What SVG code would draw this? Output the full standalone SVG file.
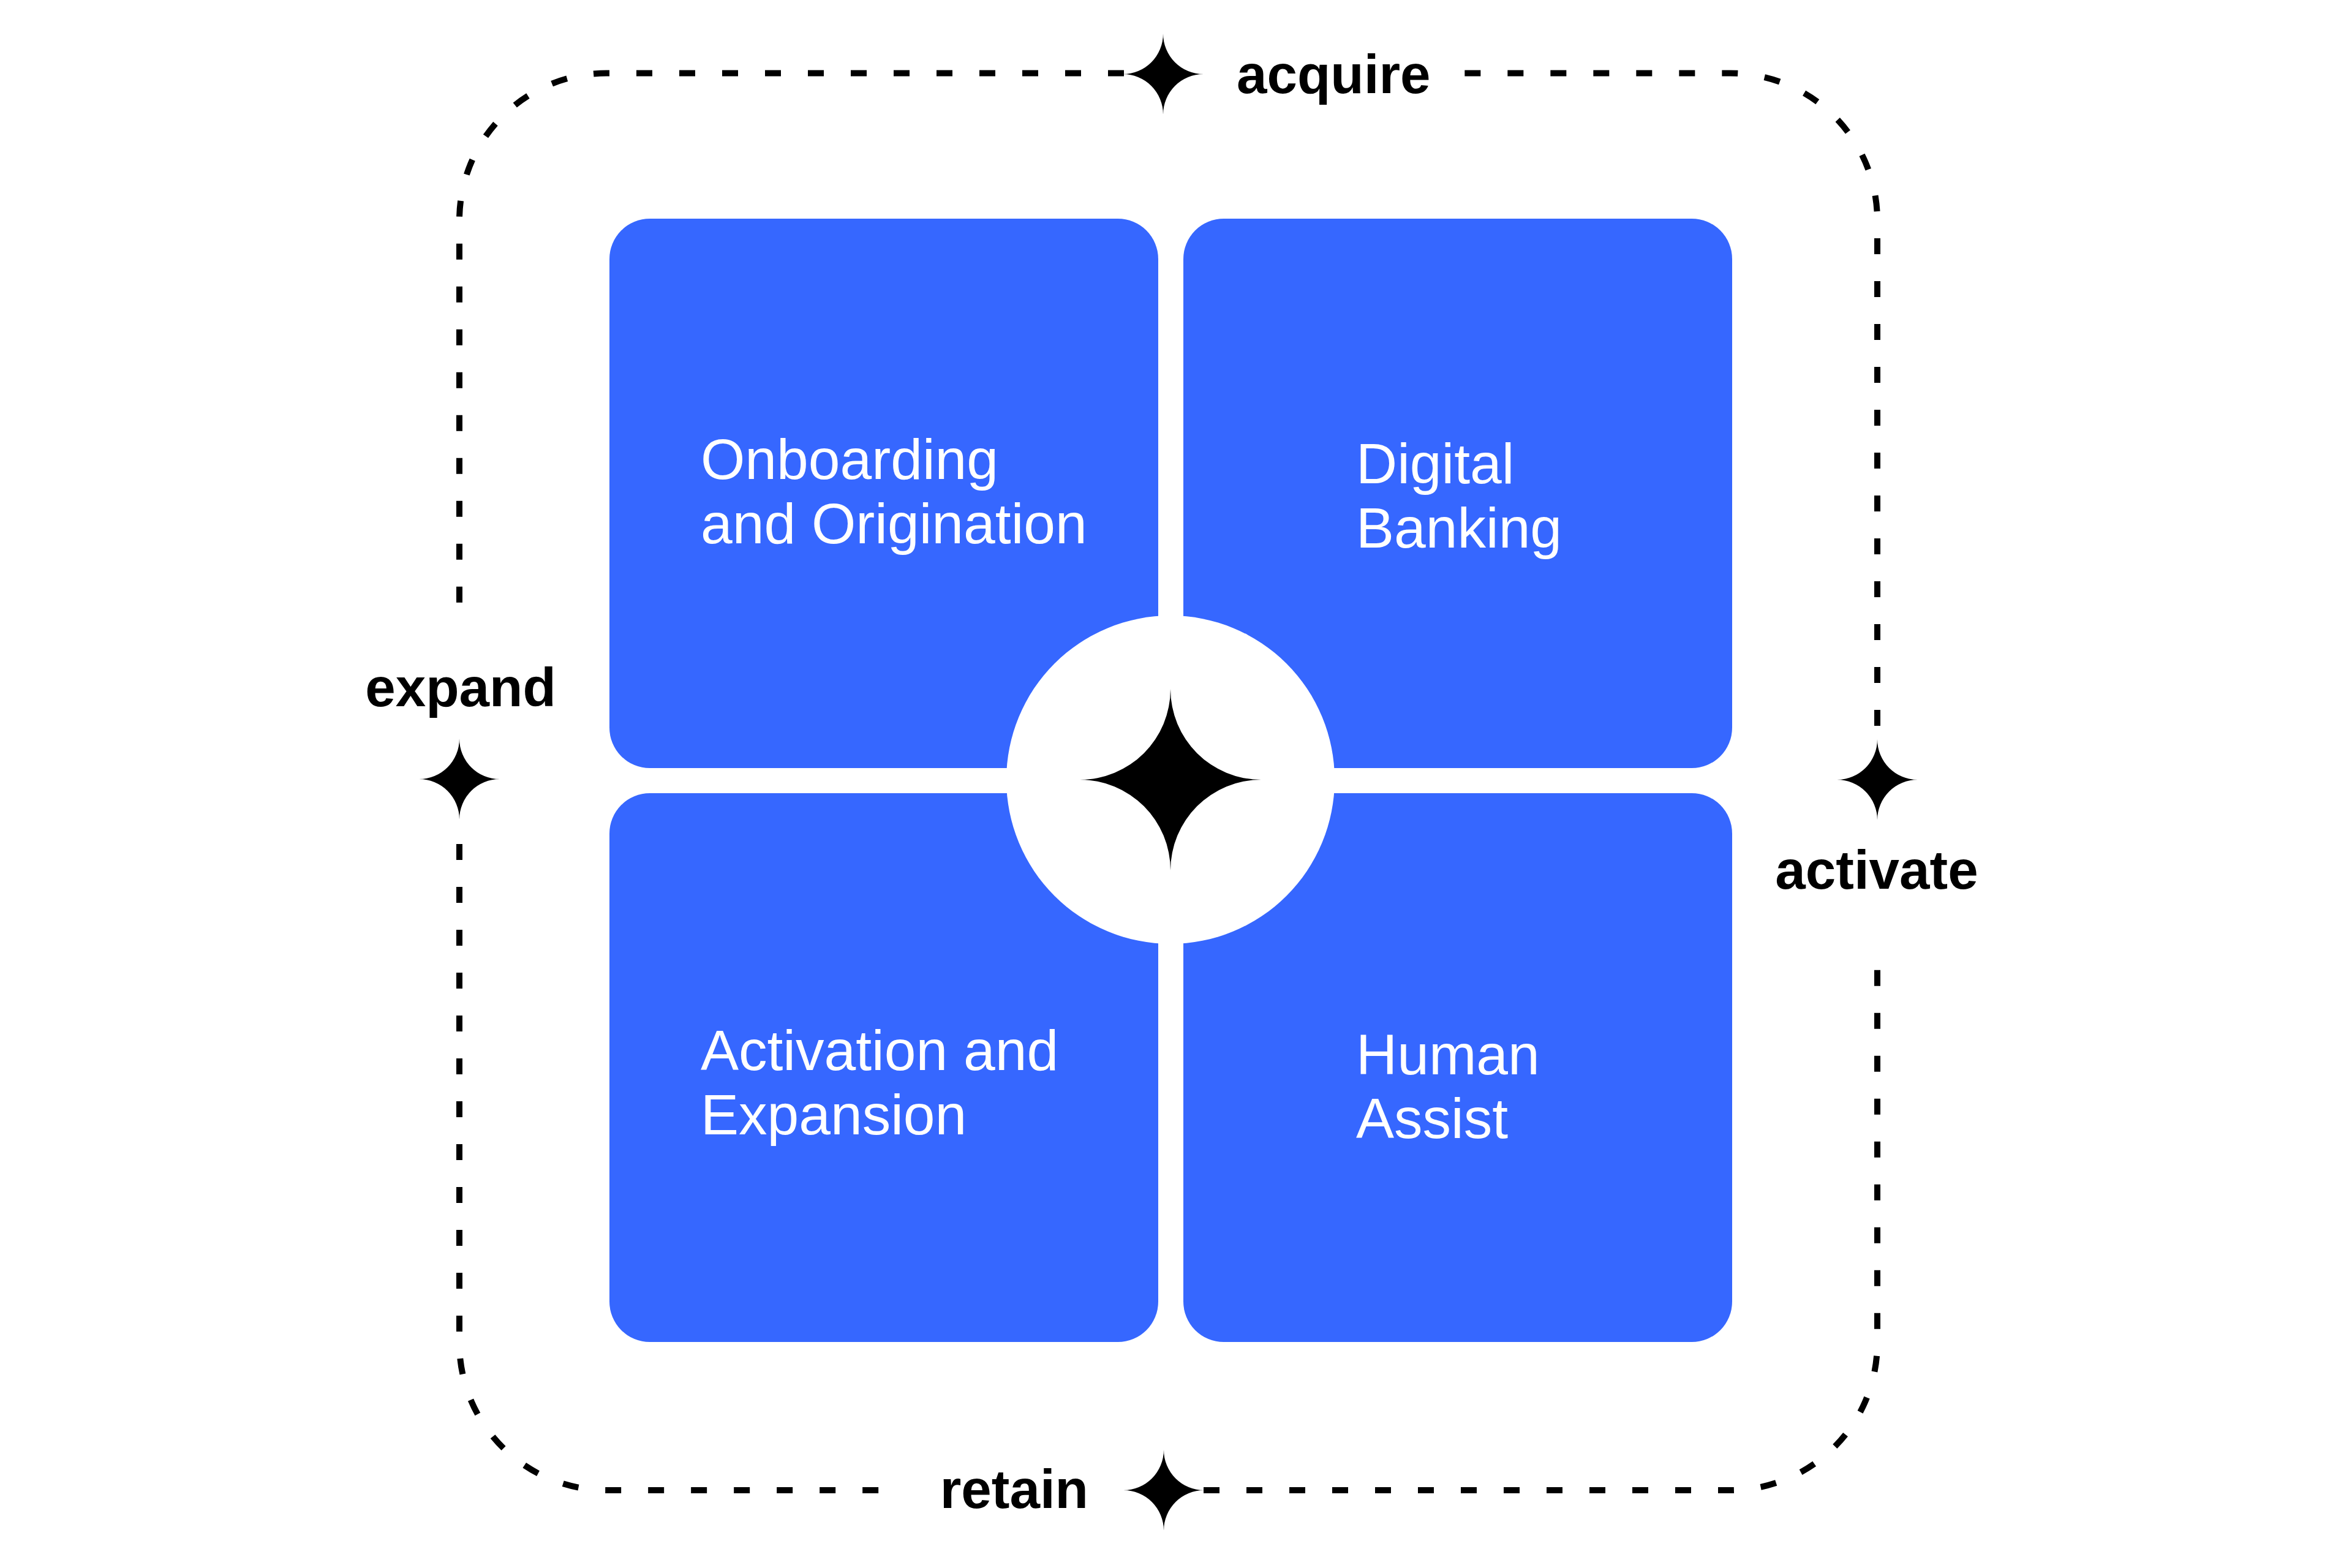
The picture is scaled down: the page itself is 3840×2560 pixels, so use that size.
<svg xmlns="http://www.w3.org/2000/svg" xmlns:xlink="http://www.w3.org/1999/xlink" width="3840" height="2560" viewBox="0 0 3840 2560">
<style>
.box{fill:#3667FF}
.boxtxt{font-family:"Liberation Sans",Arial,sans-serif;font-size:93px;fill:#FFFFFF}
.lbl{font-family:"Liberation Sans",Arial,sans-serif;font-size:89px;font-weight:700;fill:#000000}
.dash{fill:none;stroke:#000000;stroke-width:10;stroke-dasharray:26 44}
.star{fill:#000000}
</style>
<defs>
<path id="star" d="M0,-1 A1 1 0 0 0 1,0 A1 1 0 0 0 0,1 A1 1 0 0 0 -1,0 A1 1 0 0 0 0,-1 Z"/>
</defs>
<rect width="3840" height="2560" fill="#FFFFFF"/>
<g id="connectors">
<path class="dash" d="M1835,119.5 H990 A240 240 0 0 0 750,359.5 V1000"/>
<path class="dash" d="M750,1378 V2193 A240 240 0 0 0 990,2433 H1445"/>
<path class="dash" d="M1965,2433 H2825 A240 240 0 0 0 3065,2193 V1575"/>
<path class="dash" d="M3065,1185 V359.5 A240 240 0 0 0 2825,119.5 H2386"/>
</g>
<g id="node-onboarding">
<rect class="box" x="995" y="357" width="896" height="897" rx="66" ry="66"/>
<text class="boxtxt" x="1144" y="782">Onboarding</text>
<text class="boxtxt" x="1144" y="887">and Origination</text>
</g>
<g id="node-digital">
<rect class="box" x="1932" y="357" width="896" height="897" rx="66" ry="66"/>
<text class="boxtxt" x="2214" y="789">Digital</text>
<text class="boxtxt" x="2214" y="894">Banking</text>
</g>
<g id="node-activation">
<rect class="box" x="995" y="1295" width="896" height="896" rx="66" ry="66"/>
<text class="boxtxt" x="1144" y="1747">Activation and</text>
<text class="boxtxt" x="1144" y="1852">Expansion</text>
</g>
<g id="node-human">
<rect class="box" x="1932" y="1295" width="896" height="896" rx="66" ry="66"/>
<text class="boxtxt" x="2214" y="1754">Human</text>
<text class="boxtxt" x="2214" y="1858">Assist</text>
</g>
<g id="node-center">
<circle cx="1911" cy="1273" r="268" fill="#FFFFFF"/>
<use xlink:href="#star" href="#star" class="star" transform="translate(1911,1273) scale(148)"/>
</g>
<g id="node-acquire">
<use xlink:href="#star" href="#star" class="star" transform="translate(1899,121) scale(66)"/>
<text class="lbl" x="2019" y="152">acquire</text>
</g>
<g id="node-activate">
<use xlink:href="#star" href="#star" class="star" transform="translate(3065,1273) scale(66)"/>
<text class="lbl" x="3064" y="1451" text-anchor="middle">activate</text>
</g>
<g id="node-retain">
<use xlink:href="#star" href="#star" class="star" transform="translate(1900,2433) scale(66)"/>
<text class="lbl" x="1777" y="2462" text-anchor="end">retain</text>
</g>
<g id="node-expand">
<use xlink:href="#star" href="#star" class="star" transform="translate(750,1272) scale(66)"/>
<text class="lbl" x="752" y="1153" text-anchor="middle">expand</text>
</g>
</svg>
